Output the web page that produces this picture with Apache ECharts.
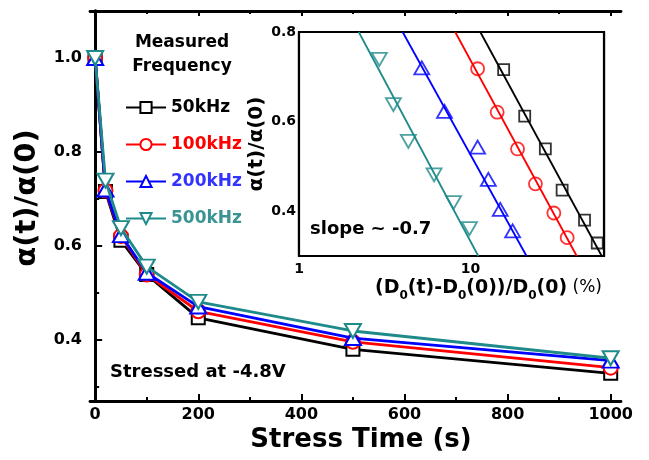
<!DOCTYPE html>
<html><head><meta charset="utf-8">
<script src="https://cdn.jsdelivr.net/npm/echarts@6/dist/echarts.min.js"></script>
<style>html,body{margin:0;padding:0;background:#fff}#c{width:649px;height:460px}</style>
</head><body><div id="c"></div>
<script>
// ---- data ----
const times = [0, 20, 50, 100, 200, 500, 1000];
const freqNames = ['50kHz', '100kHz', '200kHz', '500kHz'];
const alpha50  = [1.0, 0.716, 0.612, 0.539, 0.447, 0.380, 0.329];
const alpha100 = [1.0, 0.718, 0.621, 0.539, 0.461, 0.396, 0.341];
const alpha200 = [1.0, 0.720, 0.623, 0.543, 0.471, 0.404, 0.356];
const alpha500 = [1.0, 0.739, 0.638, 0.556, 0.481, 0.419, 0.361];
// inset: (D0(t)-D0(0))/D0(0) in % for t = 20..1000 s
const dD50  = [15.6, 20.7, 27.3, 34.2, 46.2, 54.8];
const dD100 = [11.0, 14.3, 18.8, 23.9, 30.6, 36.6];
const dD200 = [5.2, 7.05, 11.0, 12.7, 14.9, 17.6];
const dD500 = [2.94, 3.55, 4.34, 6.13, 7.96, 9.86];
// inset fit lines (slope ~ -0.7)
const fit50  = [[11.4, 0.8], [58.2, 0.3]];
const fit100 = [[8.14, 0.8], [41.6, 0.3]];
const fit200 = [[4.02, 0.8], [21.2, 0.3]];
const fit500 = [[2.23, 0.8], [11.1, 0.3]];
// ticks / labels
const mainXMajor = [0, 200, 400, 600, 800, 1000];
const mainXMinor = [100, 300, 500, 700, 900];
const mainYMajor = [0.4, 0.6, 0.8, 1.0];
const mainYMinor = [0.3, 0.5, 0.7, 0.9];
const insetXLabels = [1, 10];
const insetXTicks = [1, 2, 3, 4, 5, 6, 7, 8, 9, 10, 20, 30, 40, 50, 60];
const insetYLabels = [0.4, 0.6, 0.8];
const insetYTicks = [0.3, 0.4, 0.5, 0.6, 0.7, 0.8];

// ---- styles ----
const FONT = 'DejaVu Sans';
const lineColors = ['#000000', '#ff0000', '#0000ff', '#1f8a8a'];
const textColors = ['#000000', '#ff0000', '#3333ff', '#3a9494'];
const symbols = ['rect', 'circle', 'triangle', 'triangle'];
const symRot = [0, 0, 0, 180];
const mainSizes = [13, 14, [16, 14], [16, 14]];
const insetSizes = [11, 13, [15, 13], [15, 13]];

const alphas = [alpha50, alpha100, alpha200, alpha500];
const dDs = [dD50, dD100, dD200, dD500];
const fits = [fit50, fit100, fit200, fit500];

const lbl = (size) => ({fontSize: size, fontWeight: 'bold', fontFamily: FONT, color: '#000'});

function axis(o) {
  return Object.assign({
    type: 'value', splitLine: {show: false},
    axisLine: {show: false, lineStyle: {color: '#000', width: 2.5}},
    axisLabel: {show: false},
    axisTick: {show: false}
  }, o);
}
const tick = (vals, len, inside, w) => ({show: true, inside: inside, length: len, customValues: vals, lineStyle: {color: '#000', width: w || 2}});

const xAxis = [
  axis({gridIndex: 0, position: 'bottom', min: -10, max: 1020,
    axisLine: {show: true, lineStyle: {color: '#000', width: 2.8}},
    axisTick: tick(mainXMajor, 7, true),
    axisLabel: Object.assign({show: true, customValues: mainXMajor, margin: 6, formatter: v => String(v)}, lbl(16))}),
  axis({gridIndex: 0, position: 'bottom', min: -10, max: 1020, axisTick: tick(mainXMinor, 4, true)}),
  axis({gridIndex: 0, position: 'top', min: -10, max: 1020,
    axisLine: {show: true, lineStyle: {color: '#000', width: 2.8}},
    axisTick: tick(mainXMajor, 5, true)}),
  axis({gridIndex: 0, position: 'top', min: -10, max: 1020, axisTick: tick(mainXMinor, 3, true)}),
  axis({gridIndex: 1, type: 'log', logBase: 10, position: 'bottom', min: 1, max: 60,
    axisLine: {show: true, lineStyle: {color: '#000', width: 2.2}},
    axisTick: tick(insetXTicks, 4, true, 1.5),
    axisLabel: Object.assign({show: true, customValues: insetXLabels, margin: 6, formatter: v => String(v)}, lbl(14))}),
  axis({gridIndex: 1, type: 'log', logBase: 10, position: 'top', min: 1, max: 60,
    axisLine: {show: true, lineStyle: {color: '#000', width: 2.2}},
    axisTick: tick(insetXTicks, 3, true, 1.5)})
];
const yAxis = [
  axis({gridIndex: 0, position: 'left', min: 0.27, max: 1.1,
    axisLine: {show: true, lineStyle: {color: '#000', width: 2.8}},
    axisTick: tick(mainYMajor, 7, true),
    axisLabel: Object.assign({show: true, customValues: mainYMajor, margin: 8, formatter: v => v.toFixed(1)}, lbl(16))}),
  axis({gridIndex: 0, position: 'left', min: 0.27, max: 1.1, axisTick: tick(mainYMinor, 4, true)}),
  axis({gridIndex: 0, position: 'right', min: 0.27, max: 1.1,
    axisLine: {show: true, lineStyle: {color: '#000', width: 2.8}},
    axisTick: tick(mainYMajor.concat(mainYMinor), 3, false)}),
  axis({gridIndex: 1, position: 'left', min: 0.3, max: 0.8,
    axisLine: {show: true, lineStyle: {color: '#000', width: 2.2}},
    axisTick: tick(insetYTicks, 4, true, 1.5),
    axisLabel: Object.assign({show: true, customValues: insetYLabels, margin: 3, formatter: v => v.toFixed(1)}, lbl(14)),
    name: 'α(t)/α(0)', nameLocation: 'middle', nameGap: 32, nameRotate: 90,
    nameTextStyle: {fontSize: 20, fontWeight: 'bold', fontFamily: FONT, color: '#000'}}),
  axis({gridIndex: 1, position: 'right', min: 0.3, max: 0.8,
    axisLine: {show: true, lineStyle: {color: '#000', width: 2.2}},
    axisTick: tick(insetYTicks, 3, true, 1.5)})
];

const series = [];
freqNames.forEach((n, k) => {
  series.push({
    name: n, type: 'line', xAxisIndex: 0, yAxisIndex: 0,
    data: times.map((t, i) => [t, alphas[k][i]]),
    symbol: symbols[k], symbolRotate: symRot[k], symbolSize: mainSizes[k],
    lineStyle: {color: lineColors[k], width: 2.8},
    itemStyle: {color: '#fff', borderColor: lineColors[k], borderWidth: 2},
    z: 3 + k, animation: false
  });
});
freqNames.forEach((n, k) => {
  series.push({
    name: 'fit ' + n, type: 'line', xAxisIndex: 4, yAxisIndex: 3,
    data: fits[k], symbol: 'none',
    lineStyle: {color: lineColors[k], width: 1.8}, z: 10, animation: false
  });
  series.push({
    name: 'inset ' + n, type: 'scatter', xAxisIndex: 4, yAxisIndex: 3,
    data: dDs[k].map((d, i) => [d, alphas[k][i + 1]]),
    symbol: symbols[k], symbolRotate: symRot[k], symbolSize: insetSizes[k],
    itemStyle: {color: 'rgba(255,255,255,0)', borderColor: lineColors[k], borderWidth: 1.8},
    z: 11, animation: false
  });
});

const option = {
  backgroundColor: '#fff',
  animation: false,
  grid: [
    {left: 90, top: 11, width: 531, height: 390},
    {left: 299, top: 32, width: 305, height: 224, show: true, backgroundColor: '#fff', borderColor: '#000', borderWidth: 2.2, z: 5}
  ],
  xAxis: xAxis,
  yAxis: yAxis,
  legend: {
    left: 120, top: 94, orient: 'vertical', itemWidth: 40, itemHeight: 14, itemGap: 20,
    selectedMode: false,
    data: freqNames.map((n, i) => ({name: n, textStyle: {color: textColors[i]}})),
    textStyle: {fontSize: 17, fontWeight: 'bold', fontFamily: FONT}
  },
  graphic: [
    {type: 'text', x: 182, y: 43, style: {text: 'Measured', fontSize: 17, fontWeight: 'bold', fontFamily: FONT, fill: '#000', align: 'center', verticalAlign: 'middle'}},
    {type: 'text', x: 182, y: 67, style: {text: 'Frequency', fontSize: 17, fontWeight: 'bold', fontFamily: FONT, fill: '#000', align: 'center', verticalAlign: 'middle'}},
    {type: 'text', x: 110, y: 372, style: {text: 'Stressed at -4.8V', fontSize: 18, fontWeight: 'bold', fontFamily: FONT, fill: '#000', align: 'left', verticalAlign: 'middle'}},
    {type: 'text', x: 310, y: 229, z: 20, style: {text: 'slope ~ -0.7', fontSize: 18, fontWeight: 'bold', fontFamily: FONT, fill: '#000', align: 'left', verticalAlign: 'middle'}},
    {type: 'text', x: 361, y: 440, style: {text: 'Stress Time (s)', fontSize: 26, fontWeight: 'bold', fontFamily: FONT, fill: '#000', align: 'center', verticalAlign: 'middle'}},
    {type: 'text', x: 27, y: 198, rotation: Math.PI / 2, style: {text: 'α(t)/α(0)', fontSize: 29, fontWeight: 'bold', fontFamily: FONT, fill: '#000', align: 'center', verticalAlign: 'middle'}},
    {type: 'text', x: 375, y: 288, style: {
      text: '(D{s|0}(t)-D{s|0}(0))/D{s|0}(0){p| (%)}',
      fontSize: 19, fontWeight: 'bold', fontFamily: FONT, fill: '#000', lineHeight: 28,
      align: 'left', verticalAlign: 'middle',
      rich: {
        s: {fontSize: 12, fontWeight: 'bold', fontFamily: FONT, fill: '#000', verticalAlign: 'bottom', lineHeight: 14},
        p: {fontSize: 17, fontWeight: 'normal', fontFamily: FONT, fill: '#000', lineHeight: 28}
      }}}
  ],
  series: series
};
const chart = echarts.init(document.getElementById('c'), null, {renderer: 'canvas'});
chart.setOption(option);
</script></body></html>
